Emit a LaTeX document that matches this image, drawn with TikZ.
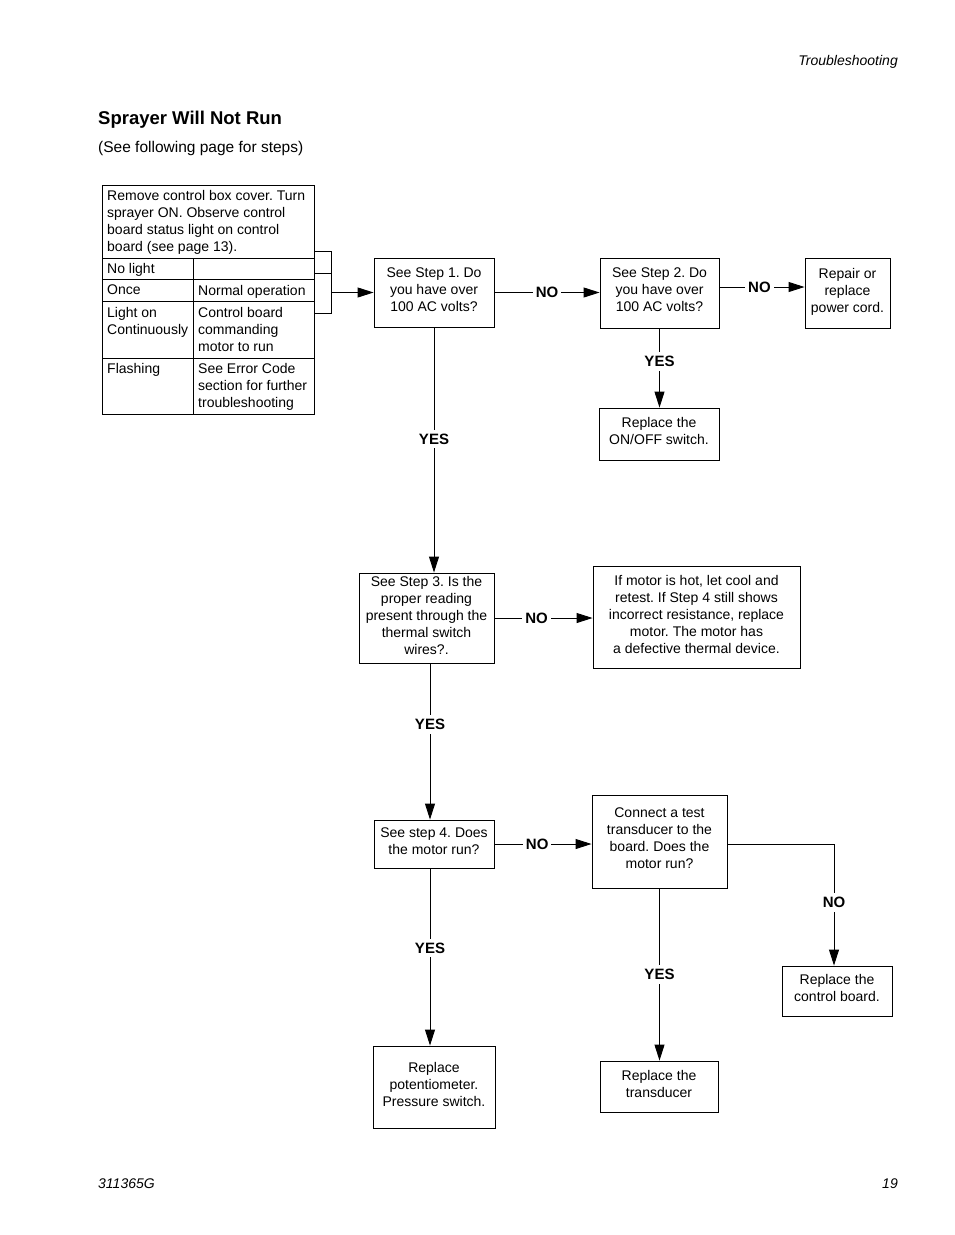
\documentclass[tikz,border=0pt]{standalone}
\usepackage{fontspec}
\setmainfont{Liberation Sans}
\usetikzlibrary{arrows.meta}
\frenchspacing
\tikzset{
  every node/.style={font=\fontsize{14}{17}\selectfont},
  box/.style={draw, line width=0.9pt, inner sep=0pt, align=center, text depth=6pt},
  tcell/.style={anchor=north west, inner sep=0pt, align=left},
  lbl/.style={fill=white, inner xsep=3pt, inner ysep=4pt, font=\fontsize{15}{17}\selectfont\bfseries},
  conn/.style={line width=0.9pt},
  arr/.style={line width=0.9pt, -{Triangle[length=16pt,width=10pt]}},
}
\begin{document}
\begin{tikzpicture}[x=1pt,y=-1pt]
\useasboundingbox (0,0) rectangle (954,1235);
% page headers
\node[anchor=base east, inner sep=0pt, font=\fontsize{14}{17}\selectfont\itshape] (hdr) at (898,65) {Troubleshooting};
\node[anchor=base west, inner sep=0pt, font=\fontsize{18.5}{22}\selectfont\bfseries] (title) at (98,124) {Sprayer Will Not Run};
\node[anchor=base west, inner sep=0pt, font=\fontsize{15.5}{18}\selectfont] (sub) at (98,152) {(See following page for steps)};
\node[anchor=base west, inner sep=0pt, font=\fontsize{14}{17}\selectfont\itshape] (docno) at (98,1188) {311365G};
\node[anchor=base east, inner sep=0pt, font=\fontsize{14}{17}\selectfont\itshape] (pgno) at (898,1188) {19};

% status table
\draw[line width=0.9pt] (102,185) rectangle (314,414);
\draw[line width=0.9pt] (102,258) -- (314,258);
\draw[line width=0.9pt] (102,279) -- (314,279);
\draw[line width=0.9pt] (102,301) -- (314,301);
\draw[line width=0.9pt] (102,358) -- (314,358);
\draw[line width=0.9pt] (193,258) -- (193,414);
\node[tcell] (t0) at (107,190) {Remove control box cover. Turn\\sprayer ON. Observe control\\board status light on control\\board (see page 13).};
\node[tcell] (t1) at (107,263) {No light};
\node[tcell] (t2) at (107,285) {Once};
\node[tcell] (t2b) at (198,285) {Normal operation};
\node[tcell] (t3) at (107,307) {Light on\\Continuously};
\node[tcell] (t3b) at (198,307) {Control board\\commanding\\motor to run};
\node[tcell] (t4) at (107,363) {Flashing};
\node[tcell] (t4b) at (198,363) {See Error Code\\section for further\\troubleshooting};

% boxes
\node[box, minimum width=120, minimum height=69] (b1) at (434,292.5) {See Step 1. Do\\you have over\\100 AC volts?};
\node[box, minimum width=119, minimum height=70] (b2) at (659.5,293) {See Step 2. Do\\you have over\\100 AC volts?};
\node[box, minimum width=85, minimum height=70] (b3) at (847.5,293) {Repair or\\replace\\power cord.};
\node[box, minimum width=120, minimum height=52] (b2y) at (659,434) {Replace the\\ON/OFF switch.};
\node[box, minimum width=135, minimum height=90] (b4) at (426.5,618) {See Step 3. Is the\\proper reading\\present through the\\thermal switch\\wires?.};
\node[box, minimum width=207, minimum height=102] (b5) at (696.5,617) {If motor is hot, let cool and\\retest. If Step 4 still shows\\incorrect resistance, replace\\motor. The motor has\\a defective thermal device.};
\node[box, minimum width=120, minimum height=48] (b6) at (434,844) {See step 4. Does\\the motor run?};
\node[box, minimum width=135, minimum height=93] (b7) at (659.5,841.5) {Connect a test\\transducer to the\\board. Does the\\motor run?};
\node[box, minimum width=110, minimum height=50] (b8) at (837,991) {Replace the\\control board.};
\node[box, minimum width=118, minimum height=51] (b9) at (659,1086.5) {Replace the\\transducer};
\node[box, minimum width=122, minimum height=82] (b10) at (434,1087) {Replace\\potentiometer.\\Pressure switch.};

% helper coordinates
\coordinate (ya) at (0,251);
\coordinate (yb) at (0,273);
\coordinate (yc) at (0,313);
\coordinate (bx) at (331,0);
\coordinate (tr) at (314,0);
\coordinate (y287) at (0,287);
\coordinate (x430) at (430,0);
\coordinate (x834) at (834,0);

% bracket from table to step 1
\draw[conn] (tr |- ya) -- (bx |- ya) -- (bx |- yc) -- (tr |- yc);
\draw[conn] (tr |- yb) -- (bx |- yb);
\draw[arr] (bx |- b1.west) -- (b1.west);

% connectors
\draw[arr] (b1.east) -- node[lbl, pos=0.5] {NO} (b1.east -| b2.west);
\draw[arr] (b2.east |- y287) -- node[lbl, pos=0.47] {NO} (b3.west |- y287);
\draw[arr] (b2.south) -- node[lbl, pos=0.42] {YES} (b2.south |- b2y.north);
\draw[arr] (b1.south) -- node[lbl, pos=0.455] {YES} (b1.south |- b4.north);
\draw[arr] (b4.east) -- node[lbl, pos=0.43] {NO} (b4.east -| b5.west);
\draw[arr] (b4.south -| x430) -- node[lbl, pos=0.39] {YES} (b6.north -| x430);
\draw[arr] (b6.east) -- node[lbl, pos=0.44] {NO} (b6.east -| b7.west);
\draw[arr] (b6.south -| x430) -- node[lbl, pos=0.45] {YES} (b10.north -| x430);
\draw[arr] (b7.south) -- node[lbl, pos=0.5] {YES} (b7.south |- b9.north);
\draw[arr] (b7.east |- b6.east) -| node[lbl, pos=0.74] {NO} (b8.north -| x834);
\end{tikzpicture}
\end{document}
